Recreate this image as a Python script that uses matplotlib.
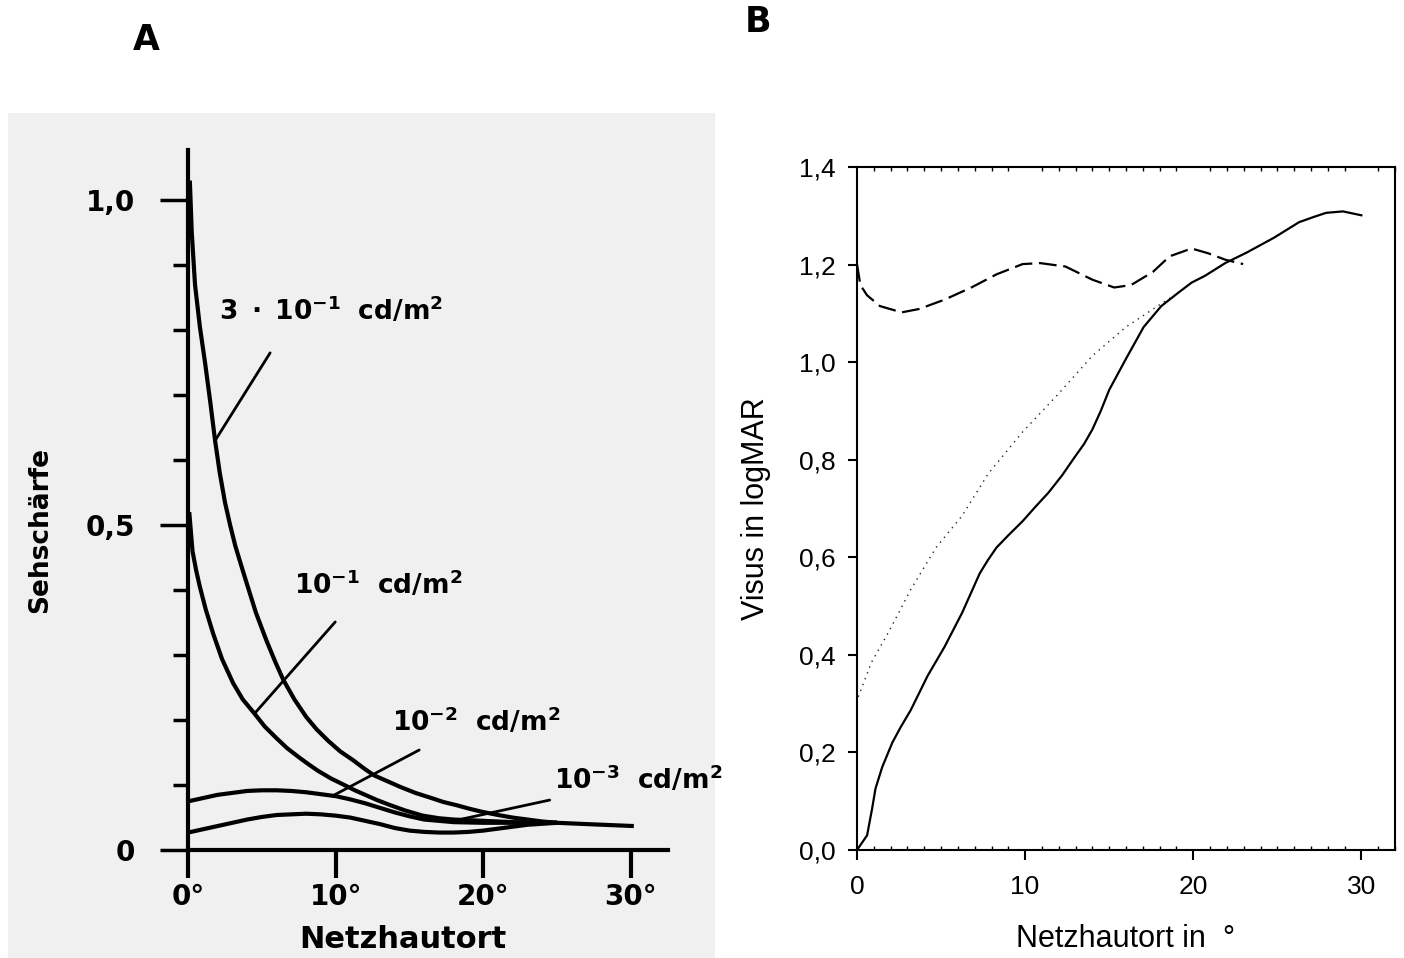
import numpy as np
import matplotlib
matplotlib.use("Agg")
from matplotlib import pyplot as plt
from matplotlib.ticker import MultipleLocator, FixedLocator, FuncFormatter

# ---- panel A: Sehschaerfe over Netzhautort for four luminance levels ----
x_3e1 = [0.12, 0.25, 0.47, 0.8, 1.15, 1.5, 1.83, 2.15, 2.5, 2.85, 3.2, 3.6, 3.98, 4.6, 5.3, 5.9,
         6.45, 7.2, 8.0, 8.7, 9.5, 10.3, 11.2, 11.9, 12.6, 13.5, 14.4, 15.4, 16.5, 17.3, 18.2,
         19.0, 19.9, 21.0, 22.0, 23.0, 24.0, 25.0, 27.0, 30.2]
y_3e1 = [1.03, 0.95, 0.87, 0.805, 0.75, 0.69, 0.63, 0.58, 0.535, 0.50, 0.468, 0.438, 0.41, 0.365,
         0.323, 0.29, 0.262, 0.232, 0.205, 0.186, 0.168, 0.152, 0.138, 0.126, 0.115, 0.106, 0.097,
         0.088, 0.08, 0.074, 0.069, 0.064, 0.059, 0.054, 0.05, 0.047, 0.044, 0.042, 0.04, 0.037]

x_1e1 = [0.08, 0.3, 0.55, 0.8, 1.2, 1.7, 2.3, 3.05, 3.7, 4.5, 5.2, 6.0, 6.7, 7.5, 8.1, 8.8, 9.7,
         10.6, 11.3, 12.0, 12.8, 13.6, 14.7, 15.9, 17.0, 18.0, 20.0, 22.0, 25.0]
y_1e1 = [0.52, 0.46, 0.43, 0.405, 0.37, 0.333, 0.294, 0.257, 0.232, 0.21, 0.19, 0.172, 0.157,
         0.143, 0.133, 0.122, 0.11, 0.1, 0.092, 0.085, 0.077, 0.07, 0.061, 0.053, 0.049, 0.047,
         0.045, 0.043, 0.042]

x_1e2 = [0, 1, 2, 3, 4, 5, 6, 7, 8, 9, 10, 11, 12, 13, 14, 15, 16, 17, 18, 20, 22, 25]
y_1e2 = [0.075, 0.08, 0.085, 0.088, 0.091, 0.092, 0.092, 0.091, 0.089, 0.086, 0.083, 0.078,
         0.072, 0.065, 0.058, 0.052, 0.047, 0.045, 0.043, 0.042, 0.042, 0.042]

x_1e3 = [0, 1, 2, 3, 4, 5, 6, 7, 8, 9, 10, 11, 12, 13, 14, 15, 16, 17, 18, 19, 20, 21, 22, 23, 25]
y_1e3 = [0.027, 0.032, 0.037, 0.042, 0.047, 0.051, 0.054, 0.055, 0.056, 0.055, 0.053, 0.05,
         0.045, 0.04, 0.034, 0.03, 0.028, 0.027, 0.027, 0.028, 0.03, 0.033, 0.036, 0.039, 0.042]

lum_labels = [r"$\mathbf{3\ \cdot\ 10^{-1}\ \ cd/m^2}$", r"$\mathbf{10^{-1}\ \ cd/m^2}$",
              r"$\mathbf{10^{-2}\ \ cd/m^2}$", r"$\mathbf{10^{-3}\ \ cd/m^2}$"]
label_pos = [(2.1, 0.83), (7.2, 0.408), (13.8, 0.197), (24.8, 0.108)]
leader_from = [(5.56, 0.765), (9.97, 0.351), (15.66, 0.154), (24.5, 0.077)]
leader_to = [(1.83, 0.63), (4.5, 0.21), (9.76, 0.083), (18.2, 0.046)]

# ---- panel B: Visus in logMAR over Netzhautort ----
solid_x = [0, 0.6, 0.9, 1.1, 1.5, 2.1, 2.6, 3.2, 4.2, 5.2, 6.25, 7.3, 7.8, 8.3, 9.0, 9.85, 10.6,
           11.4, 12.2, 12.9, 13.5, 14.0, 14.5, 15.0, 16.0, 17.05, 18.1, 19.1, 19.9, 20.7, 21.9,
           23.2, 24.8, 26.3, 27.2, 27.9, 28.9, 30.0]
solid_y = [0.0, 0.03, 0.085, 0.126, 0.17, 0.22, 0.252, 0.287, 0.357, 0.416, 0.486, 0.567, 0.595,
           0.62, 0.645, 0.674, 0.703, 0.733, 0.768, 0.803, 0.832, 0.862, 0.9, 0.943, 1.007,
           1.072, 1.115, 1.142, 1.163, 1.177, 1.203, 1.225, 1.255, 1.287, 1.298, 1.306, 1.309,
           1.301]

dotted_x = [0.08, 0.85, 1.9, 3.2, 4.7, 6.25, 7.8, 9.85, 11.9, 14.0, 16.0, 18.1, 19.1]
dotted_y = [0.314, 0.384, 0.448, 0.534, 0.62, 0.685, 0.771, 0.857, 0.932, 1.013, 1.072, 1.12, 1.142]

dashed_x = [0, 0.2, 0.6, 1.36, 2.65, 3.7, 5.2, 6.8, 8.3, 9.85, 10.9, 12.4, 14.0, 15.3, 16.3,
            17.6, 18.6, 19.9, 20.9, 21.9, 22.97]
dashed_y = [1.201, 1.158, 1.137, 1.115, 1.102, 1.109, 1.128, 1.153, 1.18, 1.201, 1.203, 1.196,
            1.169, 1.153, 1.158, 1.185, 1.217, 1.233, 1.223, 1.21, 1.201]

W, H = 1404, 958
fig = plt.figure(figsize=(W / 100, H / 100), dpi=100)

# panel A, drawn like the scanned book figure
axA = fig.add_axes([8 / W, 0, 707 / W, 845 / H], facecolor="#f0f0f0")
axA.set_xlim(-12.2, 35.7)
axA.set_ylim(-0.166, 1.134)
for xs, ys in [(x_3e1, y_3e1), (x_1e1, y_1e1), (x_1e2, y_1e2), (x_1e3, y_1e3)]:
    axA.plot(xs, ys, color="black", lw=3, solid_joinstyle="round", solid_capstyle="butt")
for txt, pos, p0, p1 in zip(lum_labels, label_pos, leader_from, leader_to):
    axA.text(pos[0], pos[1], txt, fontsize=19, va="center", ha="left")
    axA.annotate("", xy=p1, xytext=p0,
                 arrowprops=dict(arrowstyle="-", lw=2, color="black", shrinkA=0, shrinkB=0))

for s in ["top", "right"]:
    axA.spines[s].set_visible(False)
axA.spines["left"].set_position(("data", 0))
axA.spines["bottom"].set_position(("data", 0))
axA.spines["left"].set_bounds(0, 1.077)
axA.spines["bottom"].set_bounds(0, 32.5)
axA.spines["left"].set_linewidth(3)
axA.spines["bottom"].set_linewidth(3)
axA.set_xticks([0, 10, 20, 30], ["0°", "10°", "20°", "30°"], fontsize=20, fontweight="bold")
axA.set_yticks([0, 0.5, 1.0], ["0", "0,5", "1,0"], fontsize=20, fontweight="bold")
axA.yaxis.set_minor_locator(FixedLocator([0.1, 0.2, 0.3, 0.4, 0.6, 0.7, 0.8, 0.9]))
axA.tick_params(axis="x", direction="out", length=20, width=3, pad=4)
axA.tick_params(axis="y", which="major", direction="out", length=20, width=2.5, pad=18)
axA.tick_params(axis="y", which="minor", direction="out", length=11, width=2.5)
axA.text(0.045, 0.506, "Sehschärfe", transform=axA.transAxes, rotation=90,
         ha="center", va="center", fontsize=19, fontweight="bold")
axA.text(0.559, 0.022, "Netzhautort", transform=axA.transAxes,
         ha="center", va="center", fontsize=22, fontweight="bold")

# panel B
axB = fig.add_axes([857 / W, (H - 850) / H, 538 / W, 683 / H])
axB.plot(solid_x, solid_y, color="black", lw=1.6)
axB.plot(dotted_x, dotted_y, color="#222222", lw=1, linestyle=(0, (1, 3.5)))
axB.plot(dashed_x, dashed_y, color="black", lw=1.6, linestyle=(0, (8, 3)))
axB.set_xlim(0, 32)
axB.set_ylim(0, 1.4)
axB.xaxis.set_major_locator(MultipleLocator(10))
axB.xaxis.set_minor_locator(MultipleLocator(1))
axB.yaxis.set_major_locator(MultipleLocator(0.2))
axB.yaxis.set_major_formatter(FuncFormatter(lambda v, p: f"{v:.1f}".replace(".", ",")))
for s in axB.spines.values():
    s.set_linewidth(1.5)
axB.tick_params(axis="x", which="major", direction="out", length=7, width=1.5,
                labelsize=19, pad=11, top=False)
axB.tick_params(axis="x", which="minor", direction="in", length=3, width=1, top=True, bottom=True)
axB.tick_params(axis="y", direction="out", length=6.5, width=1.5, labelsize=19, pad=9, right=False)
for lab in axB.get_xticklabels() + axB.get_yticklabels():
    lab.set_fontfamily("Liberation Sans")
axB.set_xlabel("Netzhautort in  °", fontsize=22, fontfamily="Liberation Sans")
axB.set_ylabel("Visus in logMAR", fontsize=22, fontfamily="Liberation Sans")
axB.xaxis.set_label_coords(0.5, -0.108)
axB.yaxis.set_label_coords(-0.16, 0.5)

fig.text(146 / W, 1 - 40 / H, "A", ha="center", va="center", fontsize=25, fontweight="bold",
         family=["Liberation Sans Narrow", "DejaVu Sans"])
fig.text(758 / W, 1 - 22 / H, "B", ha="center", va="center", fontsize=25, fontweight="bold",
         family=["Liberation Sans Narrow", "DejaVu Sans"])

fig.savefig("out.png", dpi=100)
